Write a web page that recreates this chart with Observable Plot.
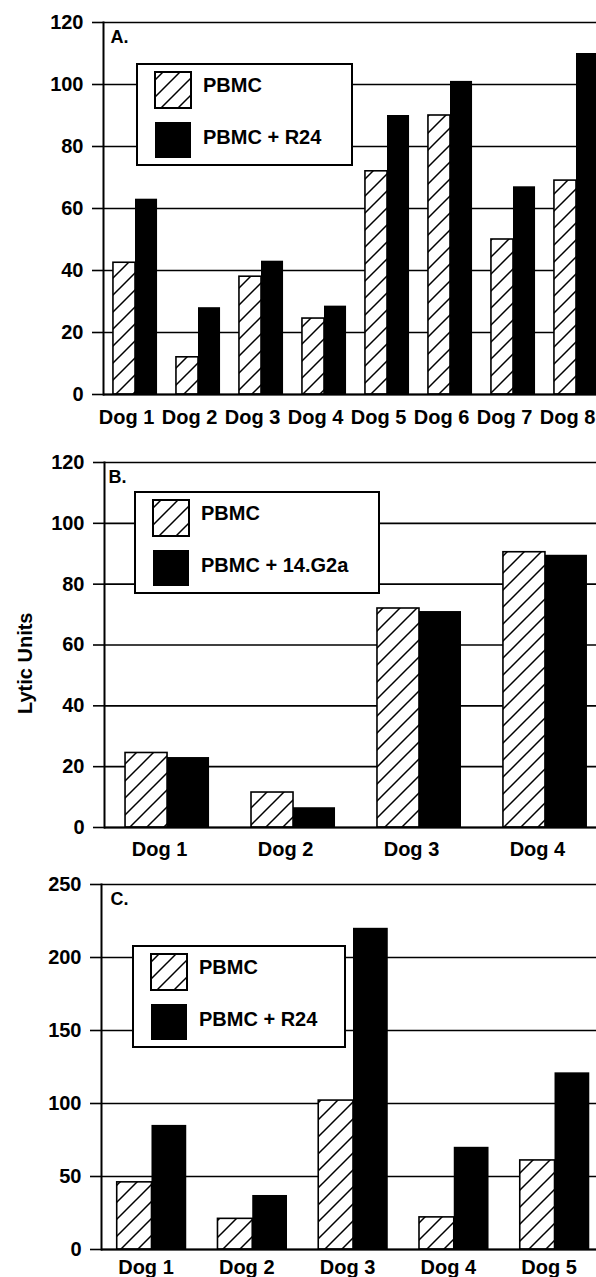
<!DOCTYPE html>
<html>
<head>
<meta charset="utf-8">
<script src="https://cdn.jsdelivr.net/npm/d3@7"></script>
<script src="https://cdn.jsdelivr.net/npm/@observablehq/plot@0.6"></script>
<style>
  body { margin: 0; background: #fff; }
  #wrap { position: relative; width: 596px; height: 1277px; overflow: hidden; background: #fff; }
  .panel { position: absolute; left: 0; }
</style>
</head>
<body>
<div id="wrap">
  <div class="panel" id="pa" style="top:0px"></div>
  <div class="panel" id="pb" style="top:430px"></div>
  <div class="panel" id="pc" style="top:860px"></div>
</div>
<script>
// ---- Data ----
const dogsA = ["Dog 1", "Dog 2", "Dog 3", "Dog 4", "Dog 5", "Dog 6", "Dog 7", "Dog 8"];
const pbmcA = [42.5, 12, 38, 24.5, 72, 90, 50, 69];
const r24A = [63, 28, 43, 28.5, 90, 101, 67, 110];
const ticksA = [0, 20, 40, 60, 80, 100, 120];

const dogsB = ["Dog 1", "Dog 2", "Dog 3", "Dog 4"];
const pbmcB = [24.5, 11.5, 72, 90.5];
const g2aB = [23, 6.5, 71, 89.5];
const ticksB = [0, 20, 40, 60, 80, 100, 120];

const dogsC = ["Dog 1", "Dog 2", "Dog 3", "Dog 4", "Dog 5"];
const pbmcC = [46, 21, 102, 22, 61];
const r24C = [85, 37, 220, 70, 121];
const ticksC = [0, 50, 100, 150, 200, 250];

const seriesBase = "PBMC";
const labelA = "PBMC + R24";
const labelB = "PBMC + 14.G2a";
const labelC = "PBMC + R24";
const yTitle = "Lytic Units";

const FONT = '"Liberation Sans", Arial, Helvetica, sans-serif';

function drawPanel(el, cfg) {
  const band = d3.scaleBand().domain(cfg.dogs).range([cfg.marginLeft, cfg.width])
    .paddingInner(cfg.padIn).paddingOuter(cfg.padOut);
  const half = band.bandwidth() / 2;
  const rows = cfg.dogs.flatMap((d, i) => [
    {dog: d, series: seriesBase, value: cfg.base[i]},
    {dog: d, series: cfg.treatedLabel, value: cfg.treated[i]}
  ]);
  const hatchId = "hatch-" + cfg.id;
  const marks = [
    Plot.ruleY(cfg.ticks, {stroke: "black", strokeWidth: 1.6}),
    Plot.barY(rows.filter(r => r.series === seriesBase), {
      x: "dog", y: "value", fill: `url(#${hatchId})`, stroke: "black", strokeWidth: 1.6, insetRight: half
    }),
    Plot.barY(rows.filter(r => r.series !== seriesBase), {
      x: "dog", y: "value", fill: "black", insetLeft: half
    }),
    Plot.ruleY([0], {stroke: "black", strokeWidth: 2}),
    Plot.frame({anchor: "left", stroke: "black", strokeWidth: 2}),
    Plot.axisY({ticks: cfg.ticks, tickSize: 11, tickPadding: 9, strokeWidth: 1.6, label: null}),
    Plot.axisX({tickSize: 0, tickPadding: cfg.xPad, dx: cfg.xDx, label: null}),
    Plot.text([cfg.letter], {
      text: d => d, frameAnchor: "top-left", dx: cfg.letterDx, dy: 20,
      textAnchor: "start", lineAnchor: "bottom", fontSize: 18
    })
  ];
  if (cfg.yLabel) {
    marks.push(Plot.text([cfg.yLabel], {
      text: d => d, frameAnchor: "left", rotate: -90, dx: -79, dy: 69,
      textAnchor: "start", lineAnchor: "middle", fontSize: 20
    }));
  }
  const svg = Plot.plot({
    width: cfg.width, height: cfg.height,
    marginTop: cfg.marginTop, marginBottom: cfg.marginBottom,
    marginLeft: cfg.marginLeft, marginRight: 0,
    style: {fontFamily: FONT, fontSize: "20px", fontWeight: "bold", maxWidth: "none",
            background: "transparent", overflow: "visible", color: "black"},
    x: {domain: cfg.dogs, paddingInner: cfg.padIn, paddingOuter: cfg.padOut, round: false},
    y: {domain: [0, cfg.ticks[cfg.ticks.length - 1]]},
    marks
  });
  const s = d3.select(svg);
  const defs = s.insert("defs", ":first-child");
  const p = defs.append("pattern").attr("id", hatchId)
    .attr("patternUnits", "userSpaceOnUse").attr("width", 17).attr("height", 17);
  p.append("rect").attr("width", 17).attr("height", 17).attr("fill", "white");
  p.append("path").attr("d", "M-4,4L4,-4M0,17L17,0M13,21L21,13")
    .attr("stroke", "black").attr("stroke-width", 1.5).attr("fill", "none");

  // legend box
  const L = cfg.legend;
  const g = s.append("g").attr("transform", `translate(${L.x},${L.y})`);
  g.append("rect").attr("width", L.w).attr("height", 101)
    .attr("fill", "white").attr("stroke", "black").attr("stroke-width", 2);
  g.append("rect").attr("x", 18).attr("y", 8).attr("width", 36).attr("height", 36)
    .attr("fill", `url(#${hatchId})`).attr("stroke", "black").attr("stroke-width", 2);
  g.append("rect").attr("x", 18).attr("y", 58).attr("width", 36).attr("height", 36)
    .attr("fill", "black");
  g.append("text").attr("x", 66).attr("y", 28).attr("text-anchor", "start").text(seriesBase);
  g.append("text").attr("x", 66).attr("y", 80).attr("text-anchor", "start").text(cfg.treatedLabel);

  el.appendChild(svg);
}

drawPanel(document.getElementById("pa"), {
  id: "a", dogs: dogsA, base: pbmcA, treated: r24A, treatedLabel: labelA, ticks: ticksA,
  width: 608, height: 430, marginTop: 22, marginBottom: 36, marginLeft: 103,
  padIn: 0.3, padOut: 0.158, xPad: 15, xDx: -9, letter: "A.", letterDx: 7,
  legend: {x: 137, y: 64, w: 215}
});
drawPanel(document.getElementById("pb"), {
  id: "b", dogs: dogsB, base: pbmcB, treated: g2aB, treatedLabel: labelB, ticks: ticksB,
  width: 608, height: 430, marginTop: 32, marginBottom: 33, marginLeft: 104,
  padIn: 0.333, padOut: 0.167, xPad: 14, xDx: -8, letter: "B.", letterDx: 4,
  legend: {x: 135, y: 62, w: 244}, yLabel: yTitle
});
drawPanel(document.getElementById("pc"), {
  id: "c", dogs: dogsC, base: pbmcC, treated: r24C, treatedLabel: labelC, ticks: ticksC,
  width: 605, height: 417, marginTop: 24, marginBottom: 28, marginLeft: 101,
  padIn: 0.31, padOut: 0.156, xPad: 10, xDx: -6, letter: "C.", letterDx: 9,
  legend: {x: 133, y: 86, w: 212}
});
</script>
</body>
</html>
